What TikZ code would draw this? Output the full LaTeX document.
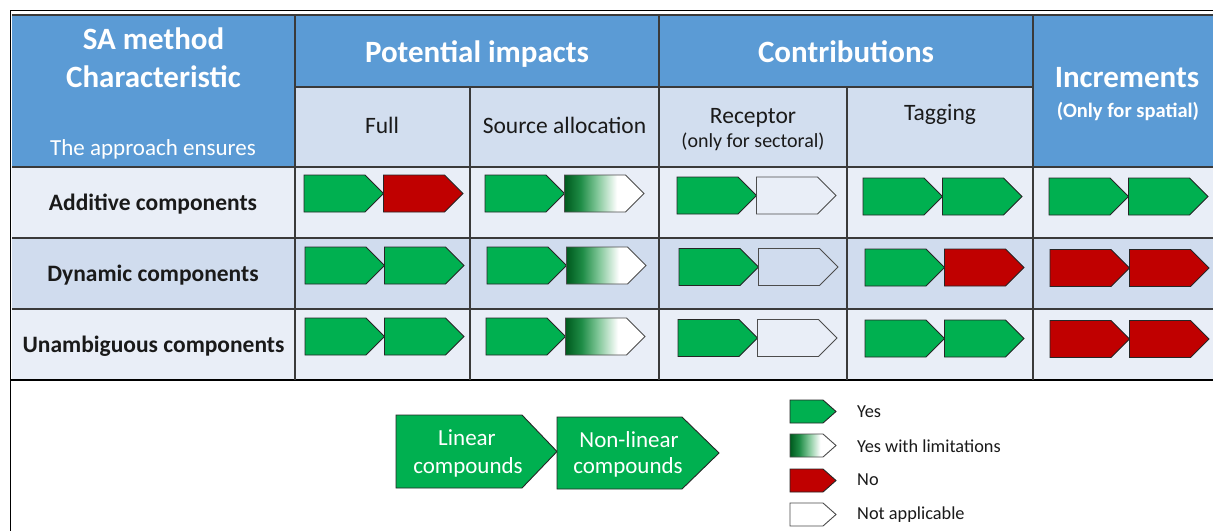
\documentclass[tikz,border=0pt]{standalone}
\usepackage{fontspec}
\setmainfont{Carlito}
\definecolor{hdrblue}{HTML}{5B9BD5}
\definecolor{subblue}{HTML}{D2DEEF}
\definecolor{rowA}{HTML}{E9EEF7}
\definecolor{rowB}{HTML}{D0DCEE}
\definecolor{gridc}{HTML}{3A3A3A}
\definecolor{ygreen}{HTML}{00B050}
\definecolor{nred}{HTML}{C00000}
\definecolor{ldark}{HTML}{005A1E}
\definecolor{lmid}{HTML}{1E8C46}
\definecolor{llight}{HTML}{7CC494}
\definecolor{txt}{HTML}{1A1A1A}
\pgfdeclarehorizontalshading{yeslim}{100bp}{color(0bp)=(ldark); color(25bp)=(ldark); color(35bp)=(lmid); color(45bp)=(llight); color(58bp)=(white); color(100bp)=(white)}
\newcommand\pent[6]{%
  \path[#1] ({#2},{#3-#5/2}) -- ({#2+#4-#6},{#3-#5/2}) -- ({#2+#4},{#3}) -- ({#2+#4-#6},{#3+#5/2}) -- ({#2},{#3+#5/2}) -- cycle;}
\newcommand\pairarrow[4]{%
  \pent{#3}{#1}{#2}{79.5}{37}{18.5}%
  \pent{#4}{#1+79.5}{#2}{79.5}{37}{18.5}}
\tikzset{
  yes/.style={fill=ygreen,draw=black!85,line width=0.9},
  no/.style={fill=nred,draw=black!85,line width=0.9},
  lim/.style={shade,shading=yeslim,draw=gray!60!black,line width=0.9},
  na/.style={draw=gray!60!black,line width=0.9},
  naw/.style={fill=white,draw=gray!60!black,line width=0.9},
  big/.style={fill=ygreen,draw=black!85,line width=0.9},
  gridline/.style={draw=gridc,line width=1.3},
  hbig/.style={text=white,font=\fontsize{31}{36}\selectfont\bfseries,anchor=base,inner sep=0},
  hsub/.style={text=txt,font=\fontsize{23.5}{28}\selectfont,anchor=base,inner sep=0},
  hsmall/.style={text=txt,font=\fontsize{20}{24}\selectfont,anchor=base,inner sep=0},
  rowlab/.style={text=txt,font=\fontsize{23.5}{28}\selectfont\bfseries,anchor=base,inner sep=0},
  legtxt/.style={text=txt,font=\fontsize{18.3}{22}\selectfont,anchor=base west,inner sep=0},
  bigtxt/.style={text=white,font=\fontsize{23}{28}\selectfont,anchor=base,inner sep=0}
}
\begin{document}
\begin{tikzpicture}[x=1pt,y=-1pt]
\useasboundingbox (0,0) rectangle (1213,531);
\fill[white] (0,0) rectangle (1213,531);
% cell fills
\fill[hdrblue] (12,15) rectangle (1213,167);
\fill[subblue] (295,87) rectangle (1033,167);
\fill[rowA] (12,167) rectangle (1213,238);
\fill[rowB] (12,238) rectangle (1213,309);
\fill[rowA] (12,309) rectangle (1213,380);
% grid
\draw[gridline] (12,15) -- (1213,15);
\draw[gridline] (295,87) -- (1033,87);
\draw[gridline] (12,167) -- (1213,167);
\draw[gridline] (12,238) -- (1213,238);
\draw[gridline] (12,309) -- (1213,309);
\draw[draw=black,line width=1.6] (10,380) -- (1213,380);
\draw[gridline] (295,15) -- (295,380);
\draw[gridline] (470,87) -- (470,380);
\draw[gridline] (659,15) -- (659,380);
\draw[gridline] (847,87) -- (847,380);
\draw[gridline] (1033,15) -- (1033,380);
% frame
\draw[black,line width=1.8] (10,10.5) -- (1213,10.5);
\draw[black,line width=1.8] (10.5,10) -- (10.5,531);
% header texts
\node[hbig] (h1) at (153.5,49) {SA method};
\node[hbig] (h2) at (153.5,87) {Characteristic};
\node[text=white,font=\fontsize{23}{28}\selectfont,anchor=base,inner sep=0] (h3) at (153,155) {The approach ensures};
\node[hbig] (pi) at (477,62) {Potential impacts};
\node[hbig] (co) at (846,62) {Contributions};
\node[hbig] (inc) at (1127,87) {Increments};
\node[text=white,font=\fontsize{20.5}{24}\selectfont\bfseries,anchor=base,inner sep=0] (inc2) at (1128,117) {(Only for spatial)};
\node[hsub] (full) at (382,133) {Full};
\node[hsub] (src) at (564.5,133) {Source allocation};
\node[hsub] (rec) at (753,123) {Receptor};
\node[hsmall] (rec2) at (753,147.5) {(only for sectoral)};
\node[hsub] (tag) at (940,120) {Tagging};
% row labels
\node[rowlab] (r1) at (153,210) {Additive components};
\node[rowlab] (r2) at (153,281) {Dynamic components};
\node[rowlab] (r3) at (153.5,352) {Unambiguous components};
% row 1
\pairarrow{304}{193.5}{yes}{no}
\pairarrow{485}{193.5}{yes}{lim}
\pairarrow{677}{195.5}{yes}{na}
\pairarrow{863}{196.5}{yes}{yes}
\pairarrow{1049}{196.5}{yes}{yes}
% row 2
\pairarrow{305}{265.5}{yes}{yes}
\pairarrow{487}{265.5}{yes}{lim}
\pairarrow{679}{267}{yes}{na}
\pairarrow{865}{267.5}{yes}{no}
\pairarrow{1050}{268}{no}{no}
% row 3
\pairarrow{305}{336.5}{yes}{yes}
\pairarrow{486}{336.5}{yes}{lim}
\pairarrow{678}{338}{yes}{na}
\pairarrow{865}{338.5}{yes}{yes}
\pairarrow{1050}{339}{no}{no}
% legend big arrows
\pent{big}{396}{451.5}{161}{73}{35}
\pent{big}{557}{453}{162}{72}{37}
\node[bigtxt] (l1a) at (467,445) {Linear};
\node[bigtxt] (l1b) at (468,473) {compounds};
\node[bigtxt] (l2a) at (629,447) {Non-linear};
\node[bigtxt] (l2b) at (628,473) {compounds};
% legend small
\pent{yes}{790}{411.5}{46}{23}{13}
\pent{lim}{790}{445.5}{46}{23}{13}
\pent{no}{790}{480.5}{46}{23}{13}
\pent{naw}{790}{514.5}{46}{23}{13}
\node[legtxt] (k1) at (857,417) {Yes};
\node[legtxt] (k2) at (857,452) {Yes with limitations};
\node[legtxt] (k3) at (857,485.5) {No};
\node[legtxt] (k4) at (857,519.5) {Not applicable};
\end{tikzpicture}
\end{document}
